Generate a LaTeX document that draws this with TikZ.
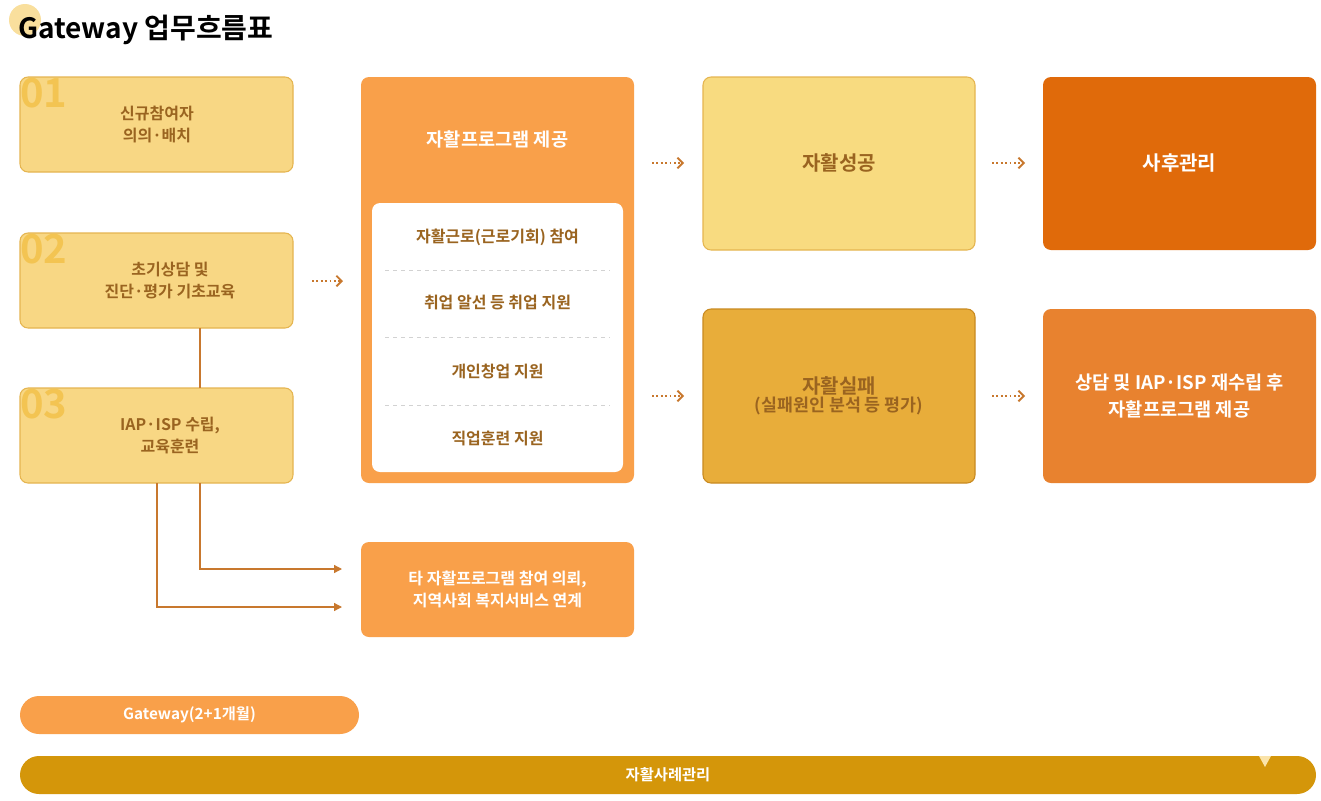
\documentclass[tikz,border=0pt]{standalone}
\usepackage{fontspec}
\setmainfont{Noto Sans CJK KR}
\newfontfamily\bfk{Noto Sans CJK KR Bold}
\usetikzlibrary{arrows.meta}
\definecolor{ylw}{HTML}{F8D784}
\definecolor{ylwb}{HTML}{E5B550}
\definecolor{brn}{HTML}{9A6420}
\definecolor{org}{HTML}{F9A04A}
\definecolor{lyl}{HTML}{F8DB80}
\definecolor{dorg}{HTML}{E06A0A}
\definecolor{fail}{HTML}{E8AD3A}
\definecolor{failb}{HTML}{C98A20}
\definecolor{mid}{HTML}{E8822F}
\definecolor{bar}{HTML}{D4960A}
\definecolor{arr}{HTML}{C8782E}
\definecolor{numc}{HTML}{F3C452}
\tikzset{
 box/.style={rounded corners=6pt, line width=0.8pt},
 step1/.style={box, fill=ylw, draw=ylwb},
 txt/.style={font=\bfk\fontsize{12}{17}\selectfont, align=center},
 dotarr/.style={arr, line width=1.4pt, dash pattern=on 1.3pt off 2pt, -{Straight Barb[length=4pt,width=8pt]}},
 conn/.style={arr, line width=1pt, -{Triangle[length=6pt,width=6pt]}},
 num/.style={font=\bfk\fontsize{30}{30}\selectfont, text=numc, anchor=north west, inner sep=0pt}
}
\begin{document}
\begin{tikzpicture}[x=0.75pt,y=-0.75pt]
\useasboundingbox[fill=white] (0,0) rectangle (1321,800);
\fill[ylw!80] (25,20) circle (16);
\node[anchor=west, font=\bfk\fontsize{21}{21}\selectfont, inner sep=0pt] (title) at (18,30) {Gateway 업무흐름표};
% left steps
\draw[step1] (20,77) rectangle (293,172);
\node[num] (n1) at (20,78) {01};
\node[txt, text=brn] (s1) at (157,124.5) {신규참여자\\의의·배치};
\draw[step1] (20,233) rectangle (293,328);
\node[num] (n2) at (20,234) {02};
\node[txt, text=brn] (s2) at (170,280.5) {초기상담 및\\진단·평가 기초교육};
\draw[step1] (20,388) rectangle (293,483);
\node[num] (n3) at (20,389) {03};
\node[txt, text=brn] (s3) at (170,435.5) {IAP·ISP 수립,\\교육훈련};
\coordinate (a2) at (200,328); \coordinate (a3) at (200,388);
\draw[arr, line width=1pt] (a2) -- (a3);
% big program box
\fill[org, rounded corners=6pt] (361,77) rectangle (634,483);
\node[font=\bfk\fontsize{14}{14}\selectfont, text=white] (ptitle) at (497.5,139) {자활프로그램 제공};
\fill[white, rounded corners=6pt] (372,203) rectangle (623,472);
\foreach \yy in {270,337,405} \draw[gray!35, dashed] (385,\yy) -- (610,\yy);
\node[txt, text=brn] (p1) at (497.5,237) {자활근로(근로기회) 참여};
\node[txt, text=brn] (p2) at (497.5,303) {취업 알선 등 취업 지원};
\node[txt, text=brn] (p3) at (497.5,371) {개인창업 지원};
\node[txt, text=brn] (p4) at (497.5,438) {직업훈련 지원};
% other
\fill[org, rounded corners=6pt] (361,542) rectangle (634,637);
\node[txt, text=white] (other) at (497.5,589.5) {타 자활프로그램 참여 의뢰,\\지역사회 복지서비스 연계};
\coordinate (c1) at (200,483); \coordinate (c2) at (157,483);
\coordinate (e1) at (342,569); \coordinate (e2) at (342,607);
\draw[conn] (c1) |- (e1);
\draw[conn] (c2) |- (e2);
% results
\draw[box, fill=lyl, draw=ylwb] (703,77) rectangle (975,250);
\node[font=\bfk\fontsize{15}{15}\selectfont, text=brn] (succ) at (839,163) {자활성공};
\fill[dorg, rounded corners=6pt] (1043,77) rectangle (1316,250);
\node[font=\bfk\fontsize{15}{15}\selectfont, text=white] (after) at (1179.5,163) {사후관리};
\draw[box, fill=fail, draw=failb] (703,309) rectangle (975,483);
\node[align=center, text=brn] (fail) at (839,396) {{\bfk\fontsize{15}{20}\selectfont 자활실패}\\{\bfk\fontsize{13}{18}\selectfont (실패원인 분석 등 평가)}};
\fill[mid, rounded corners=6pt] (1043,309) rectangle (1316,483);
\node[font=\bfk\fontsize{14}{20}\selectfont, align=center, text=white] (re) at (1179.5,396) {상담 및 IAP·ISP 재수립 후\\자활프로그램 제공};
% dotted arrows
\coordinate (d1) at (312,281); \coordinate (d1e) at (343,281);
\draw[dotarr] (d1) -- (d1e);
\coordinate (d2) at (652,163); \coordinate (d2e) at (684,163);
\draw[dotarr] (d2) -- (d2e);
\coordinate (d3) at (992,163); \coordinate (d3e) at (1025,163);
\draw[dotarr] (d3) -- (d3e);
\coordinate (d4) at (652,396); \coordinate (d4e) at (684,396);
\draw[dotarr] (d4) -- (d4e);
\coordinate (d5) at (992,396); \coordinate (d5e) at (1025,396);
\draw[dotarr] (d5) -- (d5e);
% bottom
\fill[org, rounded corners=19*0.75pt] (20,696) rectangle (359,734);
\node[font=\bfk\fontsize{11.5}{11.5}\selectfont, text=white] (gw) at (189.5,715) {Gateway(2+1개월)};
\fill[bar, rounded corners=19*0.75pt] (20,756) rectangle (1316,794);
\fill[ylw!70] (1259,756) -- (1271,756) -- (1265,767) -- cycle;
\node[font=\bfk\fontsize{11.5}{11.5}\selectfont, text=white] (cm) at (668,775) {자활사례관리};
\end{tikzpicture}
\end{document}
